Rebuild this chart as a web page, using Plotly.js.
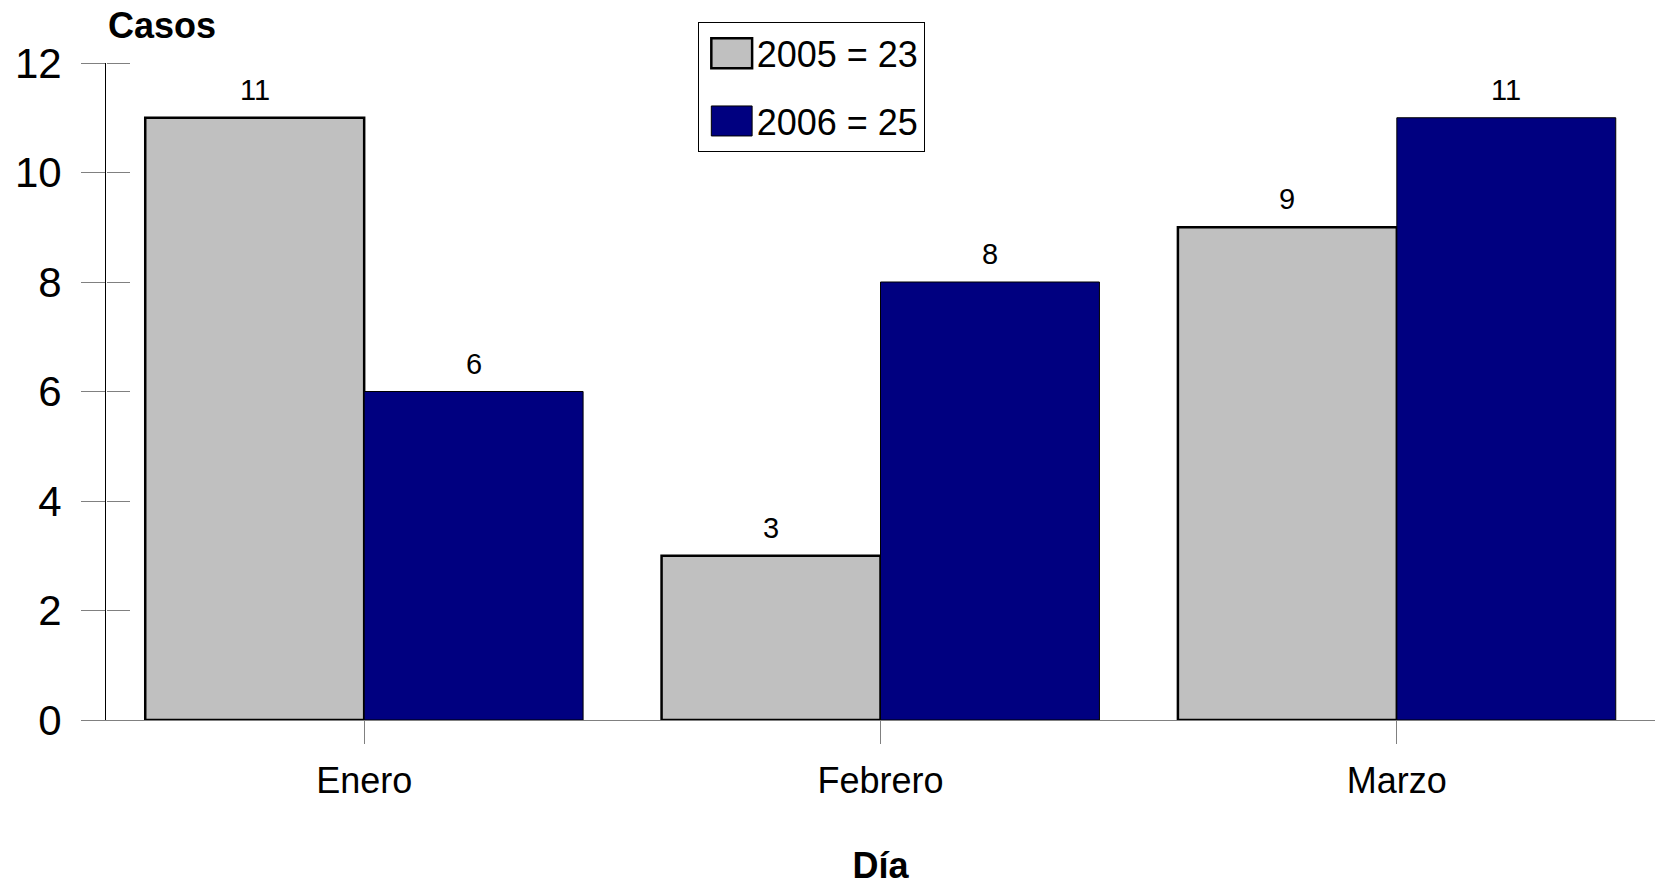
<!DOCTYPE html>
<html>
<head>
<meta charset="utf-8">
<script src="https://cdn.plot.ly/plotly-3.0.1.min.js"></script>
<style>
  body { margin: 0; background: #fff; }
  #chart { width: 1656px; height: 886px; }
  #chart .legendpoints path {
    transform: translate(33px, 0px) scale(3.4, 2.5) !important;
    vector-effect: non-scaling-stroke;
  }
</style>
</head>
<body>
<div id="chart"></div>
<script>
// ---- data ----
const months = ['Enero', 'Febrero', 'Marzo'];
const casos2005 = [11, 3, 9];
const casos2006 = [6, 8, 11];
const seriesNames = ['2005 = 23', '2006 = 25'];
const yTickVals = [0, 2, 4, 6, 8, 10, 12];

const NARROW = '"Liberation Sans Narrow", "Arial Narrow", "Liberation Sans", Arial, sans-serif';
const NORMAL = '"Liberation Sans", Arial, sans-serif';
const NARROW_SIZE = 36;

const traces = [
  {
    type: 'bar', name: seriesNames[0], x: months, y: casos2005,
    legendgroup: 'g2005',
    marker: { color: '#C0C0C0', line: { color: '#000000', width: 2.5 } },
    hoverinfo: 'skip'
  },
  {
    type: 'bar', name: seriesNames[1], x: months, y: casos2006,
    legendgroup: 'g2006',
    marker: { color: '#000080', line: { color: '#000000', width: 1 } },
    hoverinfo: 'skip'
  },
  // invisible helper trace so the inner-tick axis (y2) gets drawn
  { type: 'scatter', mode: 'none', x: months, y: casos2005, yaxis: 'y2',
    showlegend: false, hoverinfo: 'skip' }
];

const halfBar = 109.5;
const annotations = [];
months.forEach((m, i) => {
  annotations.push({ x: m, y: casos2005[i], xref: 'x', yref: 'y', text: String(casos2005[i]),
    showarrow: false, xshift: -halfBar, yanchor: 'bottom', yshift: 10,
    font: { family: NORMAL, size: 29, color: '#000' } });
  annotations.push({ x: m, y: casos2006[i], xref: 'x', yref: 'y', text: String(casos2006[i]),
    showarrow: false, xshift: halfBar, yanchor: 'bottom', yshift: 10,
    font: { family: NORMAL, size: 29, color: '#000' } });
});
annotations.push({ x: 0, y: 1, xref: 'paper', yref: 'paper', text: '<b>Casos</b>',
  showarrow: false, xanchor: 'left', yanchor: 'bottom', yshift: 15,
  font: { family: NARROW, size: NARROW_SIZE, color: '#000' } });

const layout = {
  width: 1656, height: 886,
  margin: { l: 106, r: 1, t: 63, b: 166 },
  paper_bgcolor: '#ffffff', plot_bgcolor: '#ffffff',
  barmode: 'group', bargap: 0.152, bargroupgap: 0,
  showlegend: true,
  legend: {
    x: 0.382, y: 1.062, xanchor: 'left', yanchor: 'top',
    bgcolor: '#ffffff', bordercolor: '#000000', borderwidth: 1,
    font: { family: NARROW, size: NARROW_SIZE, color: '#000' },
    itemwidth: 48, traceorder: 'grouped', tracegroupgap: 18
  },
  xaxis: {
    type: 'category', range: [-0.5, 2.5],
    showline: true, linecolor: '#808080', linewidth: 1,
    ticks: 'outside', ticklen: 23, tickcolor: '#808080', tickwidth: 1,
    tickfont: { family: NARROW, size: NARROW_SIZE, color: '#000' },
    ticklabelstandoff: 6,
    showgrid: false, zeroline: false, fixedrange: true,
    title: { text: '<b>Día</b>', font: { family: NARROW, size: NARROW_SIZE, color: '#000' }, standoff: 53 },
    automargin: false
  },
  yaxis: {
    range: [0, 12], tickvals: yTickVals,
    showline: true, linecolor: '#000000', linewidth: 1,
    ticks: 'outside', ticklen: 24, tickcolor: '#808080', tickwidth: 1,
    tickfont: { family: NORMAL, size: 42, color: '#000' },
    ticklabelstandoff: 11,
    showgrid: false, zeroline: false, fixedrange: true, automargin: false
  },
  yaxis2: {
    overlaying: 'y', anchor: 'free', position: 0, side: 'right',
    range: [0, 12], tickvals: yTickVals,
    ticks: 'outside', ticklen: 23, tickcolor: '#808080', tickwidth: 1,
    showticklabels: false, showline: false, showgrid: false, zeroline: false,
    fixedrange: true, automargin: false
  },
  annotations: annotations
};

Plotly.newPlot('chart', traces, layout, { staticPlot: true, displayModeBar: false });
</script>
</body>
</html>
